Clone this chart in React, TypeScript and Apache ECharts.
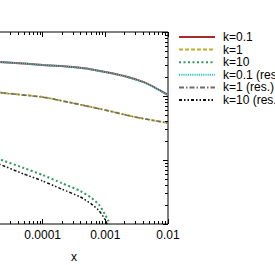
import React, { useEffect, useRef } from "react";
import * as echarts from "echarts";

const xK01 = [1e-5, 2e-5, 5e-5, 1e-4, 2e-4, 5e-4, 1e-3, 2e-3, 4e-3, 6e-3, 8e-3, 1e-2];
const yK01 = [0.352, 0.34, 0.322, 0.305, 0.294, 0.269, 0.237, 0.205, 0.166, 0.138, 0.1175, 0.1037];
const yK01res = [0.351, 0.339, 0.321, 0.304, 0.293, 0.268, 0.236, 0.204, 0.165, 0.137, 0.117, 0.103];

const xK1 = [1e-5, 3e-5, 1e-4, 3e-4, 1e-3, 3e-3, 1e-2];
const yK1 = [0.123, 0.109, 0.0965, 0.0778, 0.0604, 0.047, 0.0379];
const yK1res = [0.1225, 0.1085, 0.096, 0.0775, 0.0602, 0.0468, 0.0378];

const xK10 = [1e-5, 2e-5, 5e-5, 1e-4, 2e-4, 4e-4, 6e-4, 8e-4, 1e-3, 1.1e-3, 1.2e-3, 1.4e-3];
const yK10 = [0.01334, 0.01037, 0.0075, 0.00583, 0.00437, 0.00328, 0.00255, 0.00198, 0.00138, 0.001155, 0.00093, 0.0004];
const xK10res = [1e-5, 2e-5, 5e-5, 1e-4, 2e-4, 4e-4, 6e-4, 8e-4, 1e-3, 1.1e-3, 1.3e-3];
const yK10res = [0.01113, 0.00866, 0.00604, 0.0047, 0.00352, 0.00264, 0.00205, 0.0016, 0.001155, 0.000897, 0.0004];

const legendNames = ["k=0.1", "k=1", "k=10", "k=0.1 (res.)", "k=1 (res.)", "k=10 (res.)"];
const xTickLabels = ["0.0001", "0.001", "0.01"];

const X_MIN = 1e-5;
const X_MAX = 1e-2;
const Y_MIN = 1e-3;
const Y_MAX = 1;
const xMinorTicks: number[] = [];
for (let e = -5; e <= -3; e++) for (let m = 2; m <= 9; m++) xMinorTicks.push(m * Math.pow(10, e));
const yMinorTicks: number[] = [];
for (let e = -3; e <= -1; e++) for (let m = 2; m <= 9; m++) yMinorTicks.push(m * Math.pow(10, e));

const zip = (xs: number[], ys: number[]) => xs.map((x, i) => [x, ys[i]]);

const FONT = "'Liberation Sans', Arial, Helvetica, sans-serif";

export default function App() {
  const ref = useRef<HTMLDivElement>(null);
  useEffect(() => {
    if (!ref.current) return;
    const chart = echarts.init(ref.current, undefined, { renderer: "svg" });
    const fmt = (v: number) => {
      const lbl = xTickLabels.find((s) => Math.abs(parseFloat(s) - v) / v < 1e-6);
      return lbl ?? "";
    };
    const lineSeries = (name: string, data: number[][], color: string, width: number, type: any, z: number) => ({
      name,
      type: "line",
      data,
      symbol: "none",
      showSymbol: false,
      smooth: 0.2,
      z,
      lineStyle: { color, width, type },
      itemStyle: { color },
    });
    const minorTickLen = 3;
    chart.setOption({
      animation: false,
      textStyle: { fontFamily: FONT },
      grid: {
        left: -20,
        right: 107,
        top: 32,
        bottom: 41,
        outerBoundsMode: "none",
        containLabel: false,
        show: true,
        borderColor: "#000",
        borderWidth: 1,
        backgroundColor: "transparent",
      },
      legend: {
        orient: "vertical",
        left: 178,
        top: 31,
        padding: 0,
        itemWidth: 36,
        itemHeight: 12,
        itemGap: 0.6,
        data: legendNames,
        itemStyle: { opacity: 0 },
        textStyle: { fontSize: 12, color: "#000", fontFamily: FONT, padding: [0, 0, 0, 3] },
      },
      xAxis: [
        {
          type: "log",
          logBase: 10,
          min: X_MIN,
          max: X_MAX,
          position: "bottom",
          name: "x",
          nameLocation: "middle",
          nameGap: 27,
          nameTextStyle: { fontSize: 12, color: "#000", fontFamily: FONT },
          axisLine: { show: false },
          axisTick: { show: true, inside: true, length: 5, lineStyle: { color: "#000" } },
          axisLabel: { fontSize: 12, color: "#000", margin: 5, fontFamily: FONT, formatter: fmt },
          splitLine: { show: false },
        },
        {
          type: "log",
          logBase: 10,
          min: X_MIN,
          max: X_MAX,
          position: "top",
          axisLine: { show: false },
          axisTick: { show: true, inside: true, length: 5, lineStyle: { color: "#000" } },
          axisLabel: { show: false },
          splitLine: { show: false },
        },
      ],
      yAxis: [
        {
          type: "log",
          logBase: 10,
          min: Y_MIN,
          max: Y_MAX,
          position: "left",
          axisLine: { show: false },
          axisTick: { show: true, inside: true, length: 5, lineStyle: { color: "#000" } },
          axisLabel: { show: false },
          splitLine: { show: false },
        },
        {
          type: "log",
          logBase: 10,
          min: Y_MIN,
          max: Y_MAX,
          position: "right",
          axisLine: { show: false },
          axisTick: { show: true, inside: true, length: 5, lineStyle: { color: "#000" } },
          axisLabel: { show: false },
          splitLine: { show: false },
        },
      ],
      series: [
        lineSeries("k=0.1", zip(xK01, yK01), "#a62b2b", 2, "solid", 2),
        lineSeries("k=1", zip(xK1, yK1), "#bcad2c", 2, [4, 2], 2),
        lineSeries("k=10", zip(xK10, yK10), "#2f9b5c", 2, [2, 2.5], 2),
        lineSeries("k=0.1 (res.)", zip(xK01, yK01res), "#2ec6c6", 2, [1.2, 1], 3),
        lineSeries("k=1 (res.)", zip(xK1, yK1res), "#6b6b6b", 1.5, [5, 2, 1.5, 2], 3),
        lineSeries("k=10 (res.)", zip(xK10res, yK10res), "#111111", 1.5, [3, 2, 1.5, 2, 1.5, 2], 3),
        {
          type: "custom",
          name: "xminor",
          clip: false,
          silent: true,
          z: 5,
          data: xMinorTicks.map((x) => [x, Y_MIN]),
          renderItem: (params: any, api: any) => {
            const x = api.value(0);
            const pb = api.coord([x, Y_MIN]);
            const pt = api.coord([x, Y_MAX]);
            const px = Math.round(pb[0]) + 0.5;
            return {
              type: "group",
              children: [
                { type: "line", shape: { x1: px, y1: pb[1], x2: px, y2: pb[1] - minorTickLen }, style: { stroke: "#000", lineWidth: 1 } },
                { type: "line", shape: { x1: px, y1: pt[1], x2: px, y2: pt[1] + minorTickLen }, style: { stroke: "#000", lineWidth: 1 } },
              ],
            };
          },
        },
        {
          type: "custom",
          name: "yminor",
          clip: false,
          silent: true,
          z: 5,
          data: yMinorTicks.map((y) => [X_MAX, y]),
          renderItem: (params: any, api: any) => {
            const y = api.value(1);
            const pr = api.coord([X_MAX, y]);
            const pl = api.coord([X_MIN, y]);
            const py = Math.round(pr[1]) + 0.5;
            return {
              type: "group",
              children: [
                { type: "line", shape: { x1: pr[0], y1: py, x2: pr[0] - minorTickLen, y2: py }, style: { stroke: "#000", lineWidth: 1 } },
                { type: "line", shape: { x1: pl[0], y1: py, x2: pl[0] + minorTickLen, y2: py }, style: { stroke: "#000", lineWidth: 1 } },
              ],
            };
          },
        },
      ],
    });
    return () => chart.dispose();
  }, []);
  return (
    <div
      ref={ref}
      style={{ position: "absolute", left: 0, top: 0, width: 275, height: 265, background: "#fff" }}
    />
  );
}
